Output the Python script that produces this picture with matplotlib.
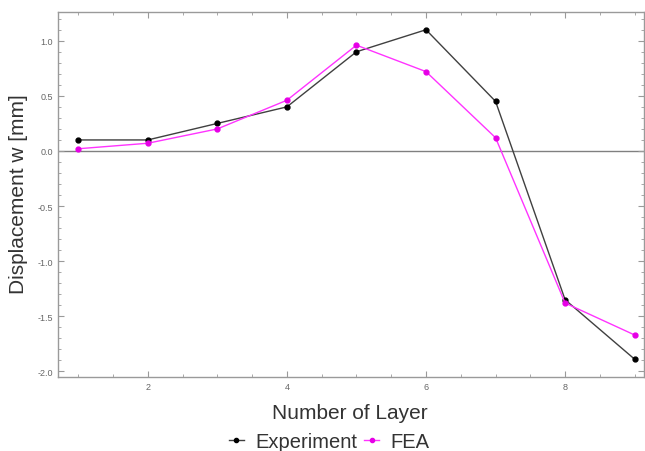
import numpy as np
import matplotlib.pyplot as plt
from matplotlib.ticker import MultipleLocator
from matplotlib.lines import Line2D

plt.rcParams['font.family'] = ['Liberation Sans', 'DejaVu Sans']

layers = [1, 2, 3, 4, 5, 6, 7, 8, 9]
experiment = [0.10, 0.10, 0.25, 0.40, 0.90, 1.10, 0.45, -1.35, -1.89]
fea = [0.02, 0.07, 0.20, 0.46, 0.96, 0.72, 0.12, -1.38, -1.67]

frame_col = '#9a9a9a'
label_col = '#333333'

fig = plt.figure(figsize=(6.45, 4.52), dpi=100)
ax = fig.add_axes([0.09, 0.164, 0.908, 0.807])

ax.axhline(0, color='#808080', lw=1.0, zorder=1)
ax.plot(layers, experiment, color='#404040', lw=1.0, marker='o', ms=3.5,
        mfc='black', mec='black', zorder=3)
ax.plot(layers, fea, color='#ff33ff', lw=1.0, marker='o', ms=3.5,
        mfc='#e600e6', mec='#e600e6', zorder=3)

ax.set_xlim(0.71, 9.13)
ax.set_ylim(-2.05, 1.26)
ax.xaxis.set_major_locator(MultipleLocator(2))
ax.xaxis.set_minor_locator(MultipleLocator(0.5))
ax.yaxis.set_major_locator(MultipleLocator(0.5))
ax.yaxis.set_minor_locator(MultipleLocator(0.1))
ax.tick_params(which='both', direction='in', top=True, right=True, color=frame_col,
               labelsize=6.5, labelcolor='#666666')
ax.tick_params(which='major', length=4)
ax.tick_params(which='minor', length=2)
ax.yaxis.set_major_formatter(plt.FuncFormatter(lambda v, p: f"{v:.1f}".replace('\u2212', '-')))
for s in ax.spines.values():
    s.set_color(frame_col)
    s.set_linewidth(1.0)

ax.set_xlabel('Number of Layer', fontsize=15, color=label_col)
ax.xaxis.set_label_coords(0.499, -0.071)
ax.set_ylabel('Displacement w [mm]', fontsize=15, color=label_col)
ax.yaxis.set_label_coords(-0.051, 0.505)

handles = [
    Line2D([], [], color='#404040', lw=1.0, marker='o', ms=3, mfc='black', mec='black'),
    Line2D([], [], color='#ff33ff', lw=1.0, marker='o', ms=3, mfc='#e600e6', mec='#e600e6'),
]
fig.legend(handles, ['Experiment', 'FEA'], loc='center', bbox_to_anchor=(0.51, 0.022),
           ncol=2, frameon=False, fontsize=14.5, handlelength=0.75, handletextpad=0.55,
           columnspacing=0.35, labelcolor=label_col)

fig.savefig('out.png', dpi=100)
